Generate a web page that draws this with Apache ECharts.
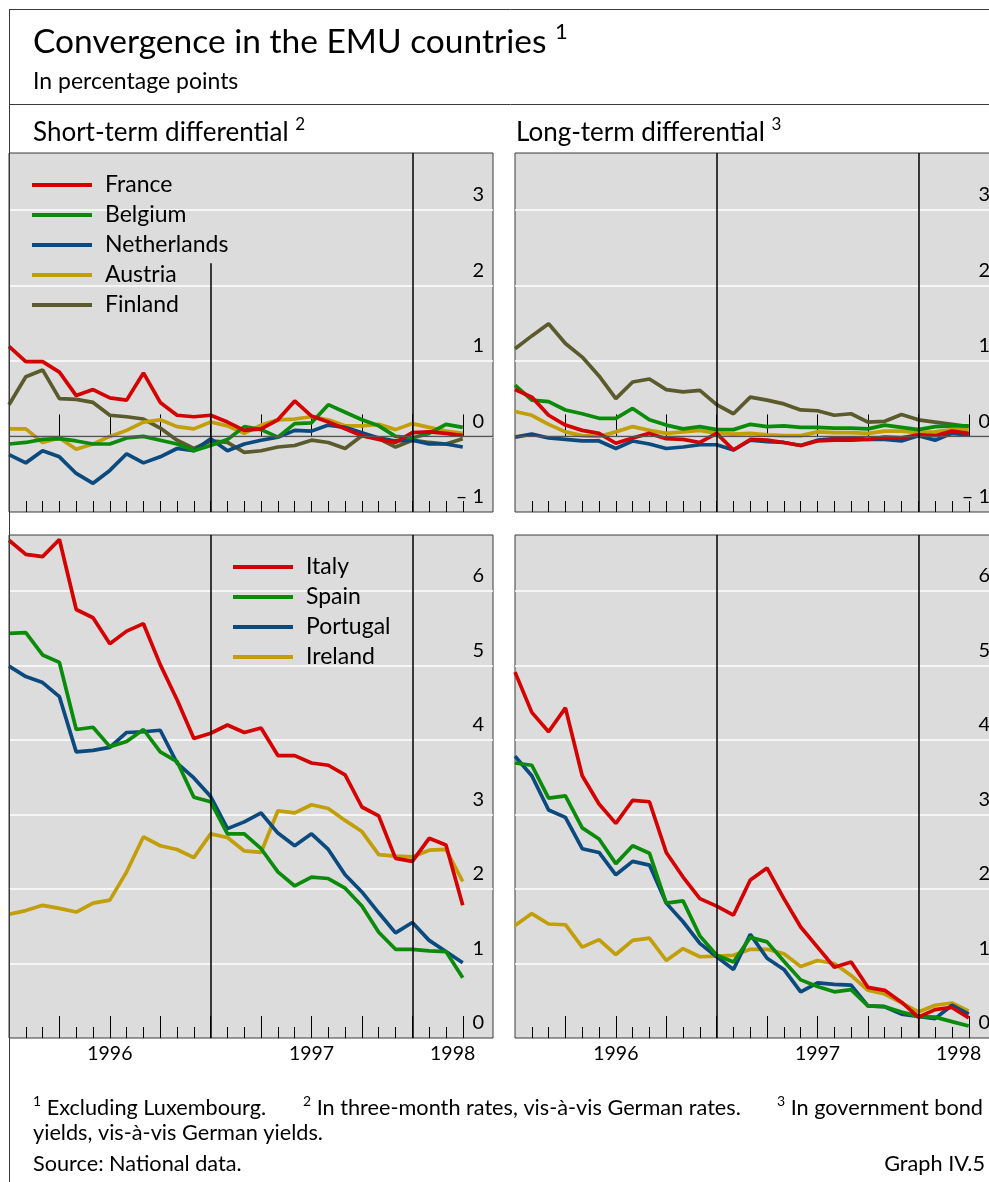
<!DOCTYPE html>
<html>
<head>
<meta charset="utf-8">
<script src="https://cdn.jsdelivr.net/npm/echarts@6/dist/echarts.min.js"></script>
<style>
html,body{margin:0;padding:0;background:#ffffff;overflow:hidden;width:989px;height:1182px;}
#chart{width:1012px;height:1182px;}
</style>
</head>
<body>
<div id="chart"></div>
<script>
// ---------------- DATA (monthly, Jan 1996 = month 0) ----------------
const yearLabels = ['1996', '1997', '1998'];
const yearLabelAt = [6, 18, 26.4];          // axis value under which each year label sits
const yearBreaks = [12, 24];                 // Jan 1997, Jan 1998

const shortNames = ['France', 'Belgium', 'Netherlands', 'Austria', 'Finland'];
const longNames = ['Italy', 'Spain', 'Portugal', 'Ireland'];

// Short-term differential (top-left)
const stFrance      = [1.19,0.99,0.99,0.85,0.54,0.62,0.51,0.48,0.84,0.45,0.28,0.26,0.28,0.19,0.08,0.10,0.22,0.47,0.27,0.19,0.10,0.01,-0.04,-0.08,0.05,0.06,0.04,0.01];
const stBelgium     = [-0.10,-0.08,-0.04,-0.03,-0.06,-0.10,-0.10,-0.02,0.00,-0.05,-0.10,-0.19,-0.12,-0.04,0.13,0.09,-0.01,0.17,0.18,0.42,0.32,0.22,0.14,0.00,-0.02,0.04,0.16,0.12];
const stNetherlands = [-0.24,-0.35,-0.19,-0.27,-0.49,-0.62,-0.45,-0.23,-0.35,-0.27,-0.16,-0.19,-0.03,-0.19,-0.10,-0.05,-0.01,0.08,0.07,0.15,0.12,0.05,-0.02,-0.06,-0.05,-0.10,-0.10,-0.14];
const stAustria     = [0.10,0.10,-0.08,-0.02,-0.17,-0.10,0.00,0.08,0.19,0.22,0.13,0.10,0.19,0.14,0.04,0.15,0.22,0.23,0.26,0.22,0.14,0.14,0.16,0.09,0.17,0.12,0.07,0.04];
const stFinland     = [0.42,0.79,0.88,0.50,0.49,0.45,0.28,0.26,0.23,0.11,-0.05,-0.16,-0.06,-0.08,-0.21,-0.19,-0.14,-0.12,-0.05,-0.08,-0.16,0.01,-0.03,-0.14,-0.05,-0.08,-0.10,-0.03];

// Long-term differential (top-right)
const ltFrance      = [0.62,0.52,0.28,0.15,0.08,0.04,-0.09,-0.02,0.04,-0.03,-0.04,-0.08,0.04,-0.18,-0.04,-0.05,-0.08,-0.12,-0.06,-0.05,-0.05,-0.04,-0.01,-0.02,0.02,0.01,0.07,0.04];
const ltBelgium     = [0.68,0.48,0.46,0.35,0.30,0.24,0.24,0.37,0.22,0.15,0.10,0.13,0.09,0.09,0.16,0.13,0.14,0.12,0.12,0.11,0.11,0.10,0.15,0.12,0.09,0.13,0.14,0.14];
const ltNetherlands = [-0.01,0.03,-0.02,-0.04,-0.06,-0.06,-0.16,-0.06,-0.10,-0.16,-0.14,-0.11,-0.11,-0.18,-0.05,-0.07,-0.08,-0.12,-0.05,-0.03,-0.02,-0.04,-0.04,-0.06,0.01,-0.05,0.04,0.02];
const ltAustria     = [0.33,0.28,0.16,0.06,0.01,0.00,0.06,0.13,0.08,0.04,0.06,0.08,0.04,0.03,0.04,0.02,0.01,0.01,0.06,0.05,0.05,0.04,0.07,0.07,0.05,0.06,0.09,0.09];
const ltFinland     = [1.16,1.33,1.49,1.23,1.05,0.80,0.50,0.72,0.76,0.62,0.59,0.61,0.42,0.30,0.52,0.48,0.43,0.35,0.34,0.28,0.30,0.19,0.20,0.29,0.22,0.19,0.16,0.13];

// Short-term differential (bottom-left)
const stItaly    = [6.68,6.49,6.46,6.69,5.75,5.64,5.29,5.46,5.56,5.01,4.54,4.02,4.09,4.20,4.10,4.16,3.79,3.79,3.69,3.66,3.53,3.10,2.98,2.41,2.37,2.68,2.59,1.78];
const stSpain    = [5.43,5.44,5.14,5.04,4.14,4.17,3.91,3.98,4.14,3.84,3.71,3.23,3.17,2.74,2.74,2.54,2.23,2.04,2.16,2.14,2.01,1.77,1.42,1.19,1.19,1.17,1.16,0.81];
const stPortugal = [4.99,4.85,4.77,4.58,3.84,3.86,3.90,4.10,4.11,4.13,3.69,3.49,3.24,2.81,2.90,3.02,2.75,2.58,2.74,2.53,2.19,1.96,1.68,1.41,1.55,1.31,1.16,1.01];
const stIreland  = [1.66,1.71,1.78,1.74,1.69,1.81,1.85,2.23,2.70,2.58,2.53,2.42,2.74,2.69,2.51,2.49,3.05,3.02,3.13,3.08,2.92,2.77,2.46,2.44,2.43,2.52,2.53,2.10];

// Long-term differential (bottom-right)
const ltItaly    = [4.91,4.37,4.11,4.43,3.52,3.14,2.88,3.19,3.17,2.49,2.16,1.87,1.77,1.65,2.12,2.28,1.87,1.49,1.22,0.95,1.02,0.68,0.64,0.48,0.28,0.38,0.41,0.27];
const ltSpain    = [3.69,3.66,3.22,3.25,2.82,2.67,2.34,2.58,2.48,1.81,1.84,1.37,1.11,1.02,1.35,1.29,1.03,0.78,0.69,0.62,0.65,0.43,0.42,0.35,0.29,0.28,0.22,0.16];
const ltPortugal = [3.78,3.52,3.06,2.96,2.54,2.49,2.19,2.37,2.32,1.81,1.56,1.27,1.09,0.92,1.39,1.07,0.92,0.62,0.74,0.72,0.71,0.43,0.42,0.32,0.29,0.26,0.44,0.32];
const ltIreland  = [1.51,1.67,1.53,1.52,1.22,1.32,1.12,1.31,1.34,1.04,1.20,1.09,1.10,1.11,1.19,1.19,1.13,0.96,1.04,1.00,0.84,0.64,0.59,0.47,0.35,0.44,0.47,0.36];

// ---------------- STYLE ----------------
const FONT = 'Lato, "Open Sans", sans-serif';
const COLORS = {
  France: '#d40000', Belgium: '#0a8c0a', Netherlands: '#0b4a7e', Austria: '#c29f06', Finland: '#5b5a2c',
  Italy: '#d40000', Spain: '#0a8c0a', Portugal: '#0b4a7e', Ireland: '#c29f06'
};
const X_MAX = 28.8;
const majorTicks = [3, 6, 9, 12, 15, 18, 21, 24, 27];
const minorTicks = [];
for (let m = 1; m <= 27; m++) minorTicks.push(m);

const grids = [
  { left: 9, top: 153, width: 484, height: 359 },   // 0 top-left
  { left: 515, top: 153, width: 484, height: 359 }, // 1 top-right (runs past the page edge)
  { left: 9, top: 535, width: 484, height: 503 },   // 2 bottom-left
  { left: 515, top: 535, width: 484, height: 503 }  // 3 bottom-right
].map(g => Object.assign(g, {
  show: true, backgroundColor: '#dcdcdc', borderColor: '#3a3a3a', borderWidth: 1, containLabel: false
}));

const xAxes = [];
grids.forEach((g, i) => {
  const bottom = i >= 2;
  xAxes.push({
    type: 'value', gridIndex: i, min: 0, max: X_MAX, position: 'bottom',
    axisLine: { show: false },
    axisTick: { show: true, inside: true, length: 22, customValues: majorTicks, lineStyle: { color: '#000', width: 1 } },
    axisLabel: {
      show: bottom, customValues: yearLabelAt, margin: 6, fontSize: 19.5, fontFamily: FONT, color: '#000',
      formatter: v => { const k = yearLabelAt.findIndex(p => Math.abs(p - v) < 1e-6); return k >= 0 ? yearLabels[k] : ''; }
    },
    splitLine: { show: false }
  });
  xAxes.push({
    type: 'value', gridIndex: i, min: 0, max: X_MAX, position: 'bottom',
    axisLine: { show: false },
    axisTick: { show: true, inside: true, length: 11, customValues: minorTicks, lineStyle: { color: '#000', width: 1 } },
    axisLabel: { show: false },
    splitLine: { show: false }
  });
});

function yFmt(v) {
  if (Math.abs(v - Math.round(v)) > 1e-6) return '';
  return v < 0 ? '\u2013 ' + Math.abs(v) : String(v);
}
const yAxes = grids.map((g, i) => ({
  type: 'value', gridIndex: i, position: 'right',
  min: i < 2 ? -1 : 0, max: i < 2 ? 3.75 : 6.75, interval: 1,
  axisLine: { show: false }, axisTick: { show: false },
  axisLabel: { inside: true, margin: 9, fontSize: 20, fontFamily: FONT, color: '#000',
    verticalAlign: 'bottom', padding: [0, 0, 5, 0], formatter: yFmt },
  splitLine: { show: true, showMinLine: false, showMaxLine: false, lineStyle: { color: '#ffffff', width: 1.5 } }
}));

function lineSeries(name, values, gi, extra) {
  return Object.assign({
    type: 'line', name: name, xAxisIndex: gi * 2, yAxisIndex: gi,
    data: values.map((v, k) => [k, v]),
    showSymbol: false, symbol: 'none', color: COLORS[name],
    lineStyle: { color: COLORS[name], width: 3.7 }, itemStyle: { color: COLORS[name] },
    animation: false, silent: true
  }, extra || {});
}

const vLine = { color: '#000', width: 1.5, type: 'solid' };
function marks(items) {
  return { markLine: { silent: true, symbol: ['none', 'none'], label: { show: false }, animation: false, lineStyle: vLine, data: items } };
}
const zeroMark = { yAxis: 0, lineStyle: { color: '#555', width: 1.3, type: 'solid' } };

const series = [
  // top-left
  lineSeries('Finland', stFinland, 0, marks([
    zeroMark,
    [{ coord: [yearBreaks[0], -1] }, { coord: [yearBreaks[0], 2.29] }],
    { xAxis: yearBreaks[1] }
  ])),
  lineSeries('Austria', stAustria, 0),
  lineSeries('Netherlands', stNetherlands, 0),
  lineSeries('Belgium', stBelgium, 0),
  lineSeries('France', stFrance, 0),
  // top-right
  lineSeries('Finland', ltFinland, 1, marks([zeroMark, { xAxis: yearBreaks[0] }, { xAxis: yearBreaks[1] }])),
  lineSeries('Austria', ltAustria, 1),
  lineSeries('Netherlands', ltNetherlands, 1),
  lineSeries('Belgium', ltBelgium, 1),
  lineSeries('France', ltFrance, 1),
  // bottom-left
  lineSeries('Ireland', stIreland, 2, marks([{ xAxis: yearBreaks[0] }, { xAxis: yearBreaks[1] }])),
  lineSeries('Portugal', stPortugal, 2),
  lineSeries('Spain', stSpain, 2),
  lineSeries('Italy', stItaly, 2),
  // bottom-right
  lineSeries('Ireland', ltIreland, 3, marks([{ xAxis: yearBreaks[0] }, { xAxis: yearBreaks[1] }])),
  lineSeries('Portugal', ltPortugal, 3),
  lineSeries('Spain', ltSpain, 3),
  lineSeries('Italy', ltItaly, 3)
];

const legendBase = {
  orient: 'vertical', icon: 'rect', itemWidth: 60, itemHeight: 4, itemGap: 0, padding: 0,
  selectedMode: false,
  textStyle: { fontSize: 23, fontFamily: FONT, color: '#000', lineHeight: 30, padding: [0, 0, 0, 8] }
};

const sup = (size) => ({ fontSize: size, fontFamily: FONT, fill: '#000', verticalAlign: 'top', lineHeight: size + 2 });
function txt(x, y, text, size, opts) {
  return Object.assign({
    type: 'text', x: x, y: y, silent: true,
    style: Object.assign({
      text: text, fill: '#000', fontSize: size, fontFamily: FONT, verticalAlign: 'middle', align: 'left',
      rich: {
        t: { fontSize: size, fontFamily: FONT, fill: '#000', lineHeight: Math.round(size * 1.25) },
        s: sup(Math.round(size * 0.66))
      }
    }, opts || {})
  });
}
const frame = { stroke: '#3a3a3a', lineWidth: 1 };

const option = {
  backgroundColor: '#ffffff',
  animation: false,
  grid: grids,
  xAxis: xAxes,
  yAxis: yAxes,
  legend: [
    Object.assign({}, legendBase, { left: 32, top: 170, data: shortNames }),
    Object.assign({}, legendBase, { left: 233, top: 552, data: longNames })
  ],
  series: series,
  graphic: [
    { type: 'line', silent: true, shape: { x1: 9, y1: 9.5, x2: 1012, y2: 9.5 }, style: frame, z: 10 },
    { type: 'line', silent: true, shape: { x1: 9.5, y1: 9, x2: 9.5, y2: 1182 }, style: frame, z: 10 },
    { type: 'line', silent: true, shape: { x1: 9, y1: 104.5, x2: 1012, y2: 104.5 }, style: frame, z: 10 },
    txt(33, 42, '{t|Convergence in the EMU countries} {s|1}', 33.5),
    txt(33, 82, 'In percentage points', 23),
    txt(33, 133, '{t|Short-term differential} {s|2}', 26),
    txt(516, 133, '{t|Long-term differential} {s|3}', 26),
    txt(33, 1108, '{s|1} {t|Excluding Luxembourg.}', 21.7),
    txt(303, 1108, '{s|2} {t|In three-month rates, vis-\u00e0-vis German rates.}', 21.7),
    txt(777, 1108, '{s|3} {t|In government bond}', 21.7),
    txt(33, 1133, 'yields, vis-\u00e0-vis German yields.', 21.7),
    txt(33, 1164, 'Source: National data.', 21.7),
    txt(985, 1164, 'Graph IV.5', 21.7, { align: 'right' })
  ]
};

const chart = echarts.init(document.getElementById('chart'), null, { renderer: 'canvas', width: 1012, height: 1182 });
chart.setOption(option);
</script>
</body>
</html>
